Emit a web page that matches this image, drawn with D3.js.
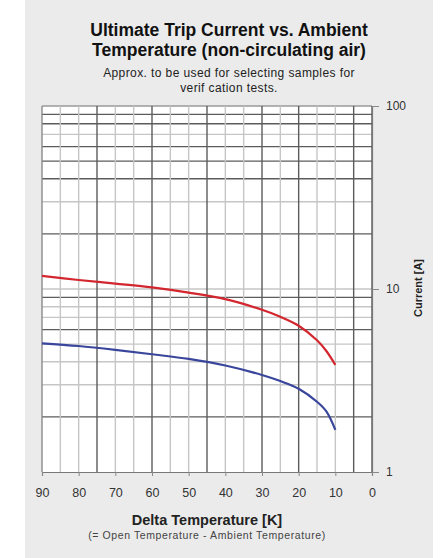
<!doctype html>
<html>
<head>
    <style>
        body { margin: 0; background: #fff; }
        text { font-family: "Liberation Sans", Arial, sans-serif; }
    </style>
    <script src="https://d3js.org/d3.v7.min.js"></script>
</head>
<body>
<svg width="446" height="558"></svg>
<script>
    // data
    var deltaTemp = [90, 80, 70, 60, 50, 40, 30, 25, 20, 15, 12.5, 10];
    var upperCurrent = [11.8, 11.2, 10.7, 10.2, 9.55, 8.8, 7.7, 7.05, 6.3, 5.25, 4.6, 3.85];
    var lowerCurrent = [5.05, 4.88, 4.65, 4.4, 4.15, 3.82, 3.39, 3.14, 2.85, 2.42, 2.15, 1.7];
    var xTicks = [90, 80, 70, 60, 50, 40, 30, 20, 10, 0];
    var yTicks = [1, 10, 100];
    var xGrid = d3.range(90, -1, -5);
    var yGrid = [2, 3, 4, 5, 6, 7, 8, 9, 10, 20, 30, 40, 50, 60, 70, 80, 90, 100];
    var xGridHeavy = [75, 60, 45, 30, 20, 5, 0];
    var yGridHeavy = [2, 6, 9, 20, 40, 50, 60, 80, 90];

    var svg = d3.select("svg");
    var plotL = 42, plotR = 372, plotT = 106, plotB = 472;

    svg.append("rect")
       .attr("x", 25).attr("y", 0)
       .attr("width", 408).attr("height", 558)
       .attr("fill", "#ebebeb");

    svg.append("rect")
       .attr("x", plotL).attr("y", plotT)
       .attr("width", plotR - plotL).attr("height", plotB - plotT)
       .attr("fill", "#fff");

    var x = d3.scaleLinear().domain([90, 0]).range([plotL, plotR]);
    var y = d3.scaleLog().domain([1, 100]).range([plotB, plotT]);

    // grid
    svg.append("g").selectAll("line")
       .data(yGrid)
       .enter().append("line")
       .attr("x1", plotL).attr("x2", plotR)
       .attr("y1", function(d) { return y(d); })
       .attr("y2", function(d) { return y(d); })
       .attr("stroke", function(d) {
           if (d == 100) return "#9a9a9a";
           return yGridHeavy.indexOf(d) >= 0 ? "#5c5c5c" : "#c6c6c6";
       })
       .attr("stroke-width", 1.4);

    svg.append("g").selectAll("line")
       .data(xGrid)
       .enter().append("line")
       .attr("y1", plotT).attr("y2", plotB)
       .attr("x1", function(d) { return x(d); })
       .attr("x2", function(d) { return x(d); })
       .attr("stroke", function(d) {
           if (d == 90) return "#8a8a8a";
           return xGridHeavy.indexOf(d) >= 0 ? "#5c5c5c" : "#c6c6c6";
       })
       .attr("stroke-width", 1.4);

    // axes
    var xAxis = svg.append("g")
       .attr("transform", "translate(0," + plotB + ")")
       .call(d3.axisBottom(x).tickValues(xTicks).tickSize(4).tickPadding(12));
    xAxis.select(".domain").attr("stroke", "#777").attr("stroke-width", 1.2);
    xAxis.selectAll(".tick line").attr("stroke", "#888");
    xAxis.selectAll("text").attr("font-size", "12.5px").attr("fill", "#333")
         .style("font-family", "'Liberation Sans', Arial, sans-serif");

    var yAxis = svg.append("g")
       .attr("transform", "translate(" + plotR + ",0)")
       .call(d3.axisRight(y).tickValues(yTicks).tickFormat(d3.format("d")).tickSize(7).tickPadding(7));
    yAxis.select(".domain").attr("stroke", "#777").attr("stroke-width", 1.2);
    yAxis.selectAll(".tick line").attr("stroke", "#888");
    yAxis.selectAll("text").attr("font-size", "12px").attr("fill", "#333")
         .style("font-family", "'Liberation Sans', Arial, sans-serif");

    // curves
    var line = d3.line()
        .x(function(d) { return x(d[0]); })
        .y(function(d) { return y(d[1]); })
        .curve(d3.curveCatmullRom.alpha(0.5));

    svg.append("path")
       .datum(deltaTemp.map(function(t, i) { return [t, upperCurrent[i]]; }))
       .attr("d", line)
       .attr("fill", "none")
       .attr("stroke", "#d3262e")
       .attr("stroke-width", 2.2);

    svg.append("path")
       .datum(deltaTemp.map(function(t, i) { return [t, lowerCurrent[i]]; }))
       .attr("d", line)
       .attr("fill", "none")
       .attr("stroke", "#3a469c")
       .attr("stroke-width", 2.2);

    // titles
    svg.append("text").attr("x", 229).attr("y", 36)
       .attr("text-anchor", "middle").attr("font-size", "17.5px").attr("font-weight", "bold").attr("fill", "#111")
       .text("Ultimate Trip Current vs. Ambient");
    svg.append("text").attr("x", 229).attr("y", 56)
       .attr("text-anchor", "middle").attr("font-size", "17.5px").attr("font-weight", "bold").attr("fill", "#111")
       .text("Temperature (non-circulating air)");
    svg.append("text").attr("x", 229).attr("y", 77)
       .attr("text-anchor", "middle").attr("font-size", "12px").attr("letter-spacing", "0.4px").attr("fill", "#222")
       .text("Approx. to be used for selecting samples for");
    svg.append("text").attr("x", 229).attr("y", 92)
       .attr("text-anchor", "middle").attr("font-size", "12px").attr("letter-spacing", "0.4px").attr("fill", "#222")
       .text("verif cation tests.");

    svg.append("text").attr("x", 207).attr("y", 525)
       .attr("text-anchor", "middle").attr("font-size", "14.5px").attr("font-weight", "bold").attr("fill", "#222")
       .text("Delta Temperature [K]");
    svg.append("text").attr("x", 207).attr("y", 539)
       .attr("text-anchor", "middle").attr("font-size", "10.5px").attr("letter-spacing", "0.6px").attr("fill", "#444")
       .text("(= Open Temperature - Ambient Temperature)");

    svg.append("text")
       .attr("transform", "translate(422,288) rotate(-90)")
       .attr("text-anchor", "middle").attr("font-size", "11px").attr("font-weight", "bold").attr("fill", "#222")
       .text("Current [A]");
</script>
</body>
</html>
